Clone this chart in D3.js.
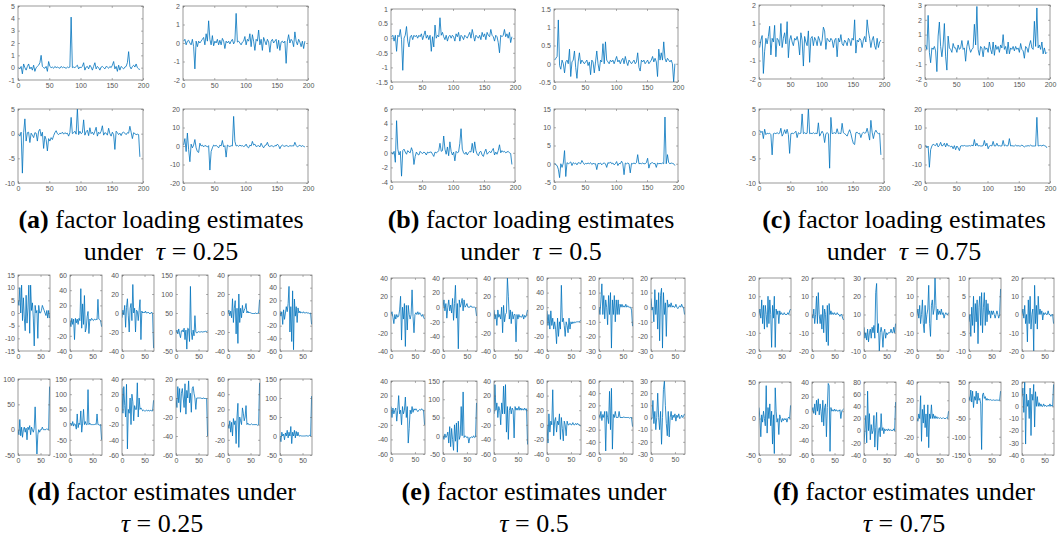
<!DOCTYPE html>
<html>
<head>
<meta charset="utf-8">
<script src="https://cdn.jsdelivr.net/npm/d3@7"></script>
<style>
body { margin: 0; background: #fff; }
svg { display: block; }
.tick text { font-family: "Liberation Sans", Arial, sans-serif; font-size: 7px; fill: #555; }
.tick line { stroke: #666; stroke-width: 0.5; }
.caption { font-family: "Liberation Serif", "Times New Roman", serif; font-size: 26px; fill: #000; }
</style>
</head>
<body>
<svg id="fig" width="1063" height="542"></svg>
<script>
// loadings: one value per 2nd unit (x = 1, 3, ..., 195)
var loadXTicks = [0, 50, 100, 150, 200];
// factors: one value per 2nd period (x = 0, 2, ..., 70)
var factXTicks = [0, 50];

// y axis [min, max, step] for each panel
var loadYA = [[-1, 5, 1], [-2, 2, 1], [-10, 5, 5], [-20, 20, 10]];
var loadYB = [[-1.5, 1, 0.5], [-0.5, 1.5, 0.5], [-4, 6, 2], [-5, 15, 5]];
var loadYC = [[-2, 2, 1], [-2, 3, 1], [-10, 5, 5], [-20, 20, 10]];
var factYD = [[-15, 15, 5], [-40, 60, 20], [-40, 40, 20], [-50, 150, 50], [-40, 40, 20], [-60, 60, 20],
              [-50, 100, 50], [-100, 150, 50], [-60, 40, 20], [-60, 20, 20], [-40, 60, 20], [-50, 150, 50]];
var factYE = [[-40, 40, 20], [-60, 40, 20], [-40, 40, 20], [-40, 60, 20], [-30, 20, 10], [-30, 20, 10],
              [-60, 40, 20], [-50, 150, 50], [-60, 40, 20], [-40, 60, 20], [-60, 60, 20], [-30, 30, 10]];
var factYF = [[-20, 20, 10], [-20, 20, 10], [-10, 30, 10], [-20, 20, 10], [-10, 10, 5], [-20, 20, 10],
              [-50, 50, 50], [-60, 40, 20], [-40, 80, 20], [-40, 40, 20], [-150, 50, 50], [-40, 20, 10]];

var loadA = [
  [0, -0.1, 0.1, -0.5, 0.3, 0, -0.2, 0.1, 0.3, -0.1, 0.05, -0.2, 0.2, -0.3, 0, 0.1, 0.2, 0.4, 1.0, 0.1,
   0, -0.05, 0.1, -0.3, 0.5, 0.1, 0, 0.05, -0.05, 0.1, 0, 0.05, 0, -0.05, 0.1, 0, 0.05, 0, -0.05, 0.05,
   0, 0.05, 4.1, 0, 0.05, 0, 0.1, 0.2, -0.1, 0.05, 0, 0.1, 0.4, -0.2, 0.05, 0.1, -0.1, 0.2, 0.05, -0.2,
   0.1, 0.4, -0.1, 0.1, 0, -0.2, 0.05, 0.1, 0, -0.1, 0.1, 0.05, -0.05, 0.1, 0, 0.2, 0.5, -0.1, 0.1, -0.3,
   0.2, -0.2, 0.1, 0, -0.1, 0.05, 0.1, 0.4, 1.3, 0.1, -0.1, 0.1, 0.2, 0.05, 0.3, 0, -0.1, -0.15],
  [0.1, 0.2, -0.1, 0.1, 0.15, 0, -0.1, 0.2, -0.2, -1.4, 0.1, -0.2, 0.1, 0, 0.1, 0.2, 0.3, -0.1, 0.5, 0.1,
   1.2, 0.2, -0.1, 0.4, -0.15, 0.1, 0, 0.2, -0.1, 0.15, -0.1, 0.25, 0.1, -0.3, 0.1, 0, 0.1, -0.05, 0.1, 0.2,
   -0.05, 0.1, 1.6, 0.05, 0.1, 0, -0.1, 0.05, 0.1, 0.35, -0.1, 0.2, 0.1, 0.5, -0.2, 0.45, 0.1, -0.4, 0.2, 0.1,
   0.7, -0.1, 0.2, -0.4, 0.3, 0.1, -0.1, 0.2, 0.05, -0.5, 0.1, 0.2, 0, 0.1, 0.2, -0.3, 0.15, -0.4, 0.05, 0.1,
   0, 0.1, -1.1, 0.1, 0.45, 0, 0.2, 0.1, -0.2, 0.6, 0.1, -0.1, 0.2, 0.05, -0.2, 0.1, -0.3, 0.1],
  [-0.2, -0.5, 0.3, -8, 0.2, 3, -1.5, 0.2, 0.3, -1.8, 0.1, -0.3, -0.8, 0.2, 0.1, -1.5, 0.5, 0.9, -0.5, 0.3,
   -3, -0.5, -1.2, -3.5, -1, -1.5, -0.8, -1.2, -0.4, 0.2, 0.6, 0, -0.2, 0.1, 0, 0.3, -0.1, 0.2, 0, 0.1,
   -0.5, 0.2, 3.3, 0, 0.2, 0.5, -0.1, 5.1, -0.2, 0.5, 0, 0.2, 2.8, -0.3, 0.4, 0.7, -0.4, 1.2, 0, 0.3,
   -0.2, 0.5, 1.3, -0.5, 0.3, 0, 0.5, 1.6, -0.3, 0.2, 0.1, -0.3, 1.1, 0, -0.5, 0.3, -0.2, -3.2, 0.5, 0.2,
   -0.2, 0.1, -0.4, 0.2, 0.3, 0.1, -0.2, 0.2, 0.1, 1.5, 0.3, -1, 0.2, 0, -0.2, -0.1, -0.2, -4.7],
  [0.5, 4, -3, 7, -2, -8.5, 1, -1, 0.5, 3.5, -1, -3, -3.5, 1.5, 0, 0.5, -0.5, 0.3, 0, -0.5,
   0.2, -13, -3, -1, 0.5, 0, 0.3, -0.2, -1, 0.5, 0, 3, -0.5, 0.2, -6, 0.5, 0, -0.3, 0.2, 0,
   16, 2.5, 0, 0.3, -0.2, 0.5, 0, 0.2, -0.3, 0, 1, -0.5, -1, 0.5, 0, 2.5, 0.5, 1, -0.3, 0,
   0.2, -0.5, 1.5, 0, -1, 0.3, 0.5, 2, 0, -0.3, 0.2, 0, -0.5, 0.3, 0, 1, 0.2, -1.5, 0, 0.5,
   0, -0.2, 0.3, 0, -0.3, 0.2, 0, 0.1, 0, 2, 0.3, -0.5, 0, 0.5, -0.3, 0.2, -0.2, -0.5]
];

var loadB = [
  [0.05, 0.1, -0.1, 0.1, -0.45, 0.1, 0.05, 0.3, -0.05, -1.1, 0, 0.1, 0.4, -0.1, -0.3, 0.05, 0.1, -0.05, 0.1, 0.05,
   0.1, 0, 0.1, 0.05, 0.15, -0.05, 0.1, 0.25, 0, 0.1, -0.05, 0.1, -0.45, 0.05, -0.3, 0.45, 0, 0.1, 0.05, 0.7,
   0.1, 0.2, 0.05, -0.05, 0.1, -0.1, 0.05, 0.1, 0, 0.1, 0.05, -0.1, 0.15, 0.05, 0.2, -0.1, 0.1, 0.05, -0.05, 0.1,
   0.05, 0, 0.1, 0.2, 0, 0.3, 0.1, -0.1, 0.1, 0.05, 0, 0.1, -0.05, 0.2, 0.05, 0.15, -0.05, 0.2, 0.1, 0.05,
   0.3, 0.1, 0.05, -0.1, 0.1, 0.05, -0.15, -0.5, 0.1, 0.05, 0.1, 0.3, 0.05, 0.15, 0, 0.2, -0.15, 0.05],
  [0.1, 0.15, 0.2, 1.2, -0.05, -0.15, 0.1, 0, -0.25, 0.05, 0.1, 0, 0.4, -0.35, 0.05, 0.1, 0.35, -0.1, -0.4, 0.05,
   0.3, 0, 0.1, 0.05, 0, 0.05, 0.1, -0.05, 0.05, -0.3, 0.1, 0.05, -0.25, 0.05, 0.35, 0, -0.2, 0.1, 0.05, 0.55,
   0, 0.6, 0.1, 0.05, 0, 0.1, 0.05, 0.1, 0, 0.1, 0.2, 0.05, 0.1, 0, 0.1, 0.15, 0, 0.2, 0.05, -0.05,
   0.1, 0.05, 0, 0.05, 0.1, 0, 0.05, 0.3, -0.1, -0.2, 0.1, 0.05, 0.1, 0, 0.05, 0.1, 0, 0.05, 0.1, 0.2,
   0.05, 0.15, 0.05, -0.35, 0.4, 0.1, 0.3, 0.1, 0.6, 0.15, 0.05, 0.15, 0.1, 0.05, 0.1, 0, -0.5, 0],
  [0.1, -0.2, 0.2, -1.3, 4.4, 0.5, -0.3, 0.2, -3.2, 0.3, 0.5, 0.1, -0.2, 0.3, 0.1, 0, 0.7, 0.2, -1.6, -0.5,
   0.1, -0.2, -0.3, 0.2, 0, -0.1, 0.1, 0, -0.3, 0.1, 0, 0.1, 0.1, -0.2, -0.5, 0.1, 0, 0.1, 0.3, 1.3,
   0.2, 0.3, 2.3, 0.5, -0.2, 0.8, -0.4, 1.5, 0.2, -0.3, 0.1, -1.1, 0.2, 0, 0.1, 1.3, 3.3, 0.5, 0, -0.2,
   0.1, -0.3, 0, 0.2, 0.1, 1.3, 0, 1.5, 0.3, -0.2, -0.4, 0.1, 0.2, -0.3, -0.5, 0.1, 0.5, -0.2, 0, 0.2,
   0, 0.3, 0.6, -0.3, 0.1, -0.2, 0.3, 1.1, 0, 0.3, 0.1, 0.2, 0, 0.1, 0.2, 0, -0.1, -1.6],
  [0.2, -0.3, -0.5, -1.5, -3.8, 0, -1, 0.2, 3.6, -3.5, 0.3, 0, 0.2, 0.5, -0.5, 0.3, 0, 0.2, -0.3, 0.3,
   0.2, 0, 0.9, 0.3, -0.2, 0.1, 0, 0.2, 0, 0.3, -0.2, 0.1, 0, 0, -1.6, 0.1, 0, 0.2, -0.3, 0.1,
   0.2, 0, -1, 0.3, 0.1, 0.5, 0, 0.2, -0.3, 0, 0.6, -0.5, 0.1, 0, 0.7, 0, -3, 0.2, 0, 0.2,
   0, -2.5, 0.1, 0, 0.2, 0, 0.3, 2.5, 0, 0.1, 0, 0.2, 0, 0, 0.3, 1.5, -1.2, 0, 0.2, 0.3,
   0, 0.1, -1, 0.2, 0, 0.1, 0, 0.2, 0, 12.8, 0, 2.5, 0.3, 0, 0.2, 0.1, 0, -0.5]
];

var loadC = [
  [-0.3, 0.1, 0.35, -1.7, -0.5, 0.2, -0.1, 0.3, 0.85, -0.7, 0.2, 0, 0.9, -0.8, 0.2, 0.1, -0.2, 1.0, -0.3, 0.2,
   0.5, -0.1, 1.1, -0.85, 0.1, 0.35, 0, -0.2, 0.2, 0.1, 0.3, 0, -0.7, 0.5, 0.1, -1.3, 0.3, 0, -0.2, 0.6,
   -1.1, 0.2, 0.3, -0.2, 0.25, 0.1, -0.2, 0.3, 0.1, -0.2, 0.1, 0.8, 0.6, -0.4, 0.2, 0.1, 0, 0.2, 0.1, -0.3,
   0.1, 0.2, -0.8, 0.2, 0, 0.4, -0.1, -0.2, 0.1, 0, -0.2, 0.2, 0.1, -0.2, 0.2, 0.1, 1.2, -0.6, 0.1, 0,
   0.2, 0.1, -0.3, 0.1, 0.3, 0, 1.2, 0.6, 0.2, -0.3, 0.1, 0.3, -0.2, -0.4, 0.2, -0.3, 0, 0.1],
  [0.3, 0, 2.3, -0.2, -0.9, 0.1, 0, 0.2, -0.1, -1.5, 0.9, 1.85, 0.2, -0.5, 0.3, 1.75, -0.5, -1.4, 0.9, 0.1,
   0, -0.2, 0.4, 0.1, 0.1, -0.2, 0.3, 0, 0.1, 0.6, 0, 0.1, -0.8, 0.2, 0.6, 0.1, -0.2, 0, 0.1, 1.7,
   0.3, 2.9, 0, -0.4, 0.2, 0.1, -0.5, 0.2, 0, 0.1, -0.2, 0.5, 0, -0.3, 0.5, -0.4, 0.3, 0, 0.2, -0.2,
   0.3, 0.1, 1.0, 0, 0.2, -0.3, 0.5, -0.3, 0.1, 0, 0.2, -0.1, 0.2, 0, 0.1, -0.2, 0.4, 0, -0.1, -0.6,
   0.2, 0.1, -0.2, 0.3, 0.6, 0.1, 0, 1.9, 0.2, 2.8, 0.1, 0.3, 0, 0.5, -0.3, 0.1, -0.3, -0.2],
  [0.7, 0.2, 0.5, -1, 0.9, -0.2, 0.1, 0, 0.1, -0.2, -4.3, 0, 0.1, 0, 0.2, 0, 0.1, 1.1, -0.5, 0,
   0.8, 0, 0.9, -0.2, -4, 0, 0.1, 0, 0.2, 0.5, -0.8, 0.2, 0, 0.1, 4, 0, 0.2, 0, 0.1, 5.2,
   0, 0.1, 0, 0.2, 0, 0.1, 0, 2.2, -0.5, 0, 0.5, 0, -1.8, 0, 0.2, 0, -7, 3.3, 0, 0.1,
   0.2, 0, 1, 0, 0.1, 0, 2.1, 0.2, 0, -0.2, -0.5, 0.2, 0.8, 0, -1.1, -2, -2.2, 0.2, 0.3, 0,
   0.1, -0.8, 0, 0.3, 0.1, 0.2, 1.1, 0, -1.3, 2.7, 0.3, -1, 0.2, 0.7, 0.2, 0, 0.1, -4.3],
  [0.5, -1, 0, -11.5, -2, 0, 1, 0.5, 0.2, 1.5, -0.5, 0.3, 2, 0, 0.3, 1.5, -0.5, 1.5, 0, 0.2,
   -0.5, 0, -1.5, 0.2, -2, 0, -1, -2.5, 0, 0.2, 0, 0.3, 0, 0, 0, 0.2, 0, 0.5, 0, 3.5,
   0, 1.5, 0, 0.2, 0, 0, 0.2, 3, 0, 1.5, -1.5, 0, 0.3, 0, 2.5, 0, 0, 1.5, 0, 0.2,
   0, 0, 3, 0, 0.5, 0, 0.2, 4, 0, 0.2, 0, 0, 0.5, 0, 0.2, 0, 0, 0.5, 0, -0.5,
   0, 0, 0.2, 0, 0.5, 0, 0, 0, 0, 15.5, 0, 0.2, 0.3, 0, 0.5, 0.2, 0, -1]
];

var factD = [
  [5, 3, 10, 0, 11, -3, 6, -2, -7, 7, -4, 2, 11, -8, 11, 1, 4, -2, -13, 3, 0, 1, -10, 3, 0, 0, 1, 3, 2, 1, 0, -1, 1, -2, 1, -2],
  [0, -8, 3, -5, 2, -25, 3, -3, 2, -5, 3, 0, 42, -10, 22, -5, 33, -15, -10, 5, 12, -17, 2, 0, 3, 1, 0, 2, 1, 2, 1, 28, 2, 1, 0, -8],
  [-5, 3, -2, 8, -15, 6, 15, -3, -20, 5, 10, -8, 30, 0, 5, -20, 3, 2, -8, 3, 14, -28, 2, 0, 1, 0, 2, 0, 0, 1, 0, -1, 0, 1, -2, -37],
  [0, 5, -5, 8, -5, -15, 3, 5, 0, 10, -20, 5, -45, 10, 8, -25, 120, 0, -20, 5, -10, 43, 0, -3, 0, 1, 0, 0, 1, 0, 0, 1, 1, 2, 1, 3],
  [0, 3, -3, 2, -5, 15, -10, 5, 13, -22, 5, -32, 20, -10, 5, -5, 8, 0, 3, 5, 10, 0, 2, 0, 1, 0, 0, -1, 0, -1, 0, 0, -1, 0, 0, 14],
  [3, -5, 2, -18, 5, -10, 0, 10, 2, 15, 42, -30, 10, -45, 35, -58, 22, -5, 10, -15, 8, 0, 3, 0, 1, 0, 2, 0, 0, 1, 0, 0, 0, -1, 0, -18],
  [0, -10, 20, -12, 5, -15, 0, 5, -5, 3, -20, 5, 0, 8, -10, 5, 0, -5, 3, 45, -2, -48, -10, 0, -5, 0, 0, 5, 0, 0, 0, 0, 2, 0, 0, 85],
  [0, 5, -3, 10, -5, 3, 0, -15, 35, -10, 5, 0, 45, -25, 5, 50, 0, 10, 0, 0, 115, 0, 5, 0, 0, 0, 0, 0, 2, 0, 35, 0, 0, -2, 0, -50],
  [28, -5, 30, 5, -10, 33, -52, 0, -5, 15, -20, 20, 10, -15, 5, 0, 0, 35, -10, 15, 0, 2, 0, -2, -1, -2, -2, -1, -2, -1, -2, -2, -1, -2, -2, 12],
  [0, -10, 12, -5, 10, -15, 5, 10, 0, -10, 15, -17, 8, 0, 18, -5, 5, -15, 10, 12, 5, 0, -12, 0, 0, 0, 0, 0, 0, -1, 0, 0, -1, 0, -1, -40],
  [0, -5, 5, -10, 3, -15, 8, 0, 5, -25, 10, 28, -30, 10, 5, 0, 22, 15, 5, 10, 25, 0, 2, 0, 0, 0, 1, 0, 0, 0, 0, 0, 0, -1, 0, 55],
  [0, -15, 10, 0, 5, -10, 8, 0, 15, -5, 10, 0, 25, -20, 10, 0, 15, -5, 12, 0, 10, 0, 0, 1, 0, 0, 0, 0, 0, 1, 0, 0, 0, 2, 0, 105]
];

var factE = [
  [0, 3, -3, -10, 0, -5, 0, -3, -2, 5, 20, -28, 8, -5, 12, -35, 10, -17, 10, 0, -5, 0, 27, -2, -20, 0, 2, 0, 3, 0, 2, 0, -2, 0, -3, -5],
  [0, 10, -5, 5, -15, 0, 10, -5, 3, -8, 12, -18, 5, 30, -15, 5, -57, 10, 0, 5, 12, -5, 10, 0, 2, 5, 0, 0, 0, 2, 0, 0, 0, 0, -1, -12],
  [5, -5, 0, -12, 5, -3, 0, -5, 8, -20, 10, -8, 0, 2, 40, 20, -5, 5, -10, 3, -5, 0, 0, -30, 0, -5, 0, -3, -2, -3, 0, -5, -1, -3, 0, 5],
  [15, -5, 10, -10, 15, -5, 5, -10, 0, -10, -30, 5, -20, 0, -10, 50, 0, 5, -5, -20, 0, -5, -15, 5, -10, 0, -3, 0, -2, 0, -1, 0, 0, 0, 0, 2],
  [0, -5, 5, 16, -5, 8, -8, 5, 0, -12, 8, -5, 10, -28, 5, -5, 8, -10, 5, -5, 5, -5, 2, 0, 2, 0, 1, 0, 2, 0, 1, 0, 0, 0, -2, -13],
  [6, -2, 0, -10, 12, -5, 5, -15, 10, -23, 8, 13, -28, 10, -5, 3, -20, 5, 0, 2, 0, 3, 0, 1, 0, 0, 2, 0, -1, 0, 1, 0, 2, 0, 0, -5],
  [5, -10, 3, -5, 0, 3, -15, 0, 20, -5, 0, -20, 5, -5, 0, 18, -10, 5, -45, -25, 0, -5, 5, -3, 2, 0, 2, 0, -2, 0, 1, 0, 2, 0, 0, -20],
  [0, -10, 5, -5, 0, 10, -20, 25, -30, 20, -10, -40, 30, -15, 35, -45, 40, -10, 0, 80, 0, 120, -5, 0, -3, -5, -3, -20, -5, -5, -3, -5, 0, -5, -3, 90],
  [-5, 35, 0, 10, -10, 5, 0, -20, 10, -5, 33, -5, 35, -30, 5, -40, 0, 5, -5, 3, 0, -38, 5, 0, 3, 0, 5, 0, 3, 0, 2, 0, 3, 0, 2, -47],
  [0, -25, 15, -10, 5, 0, 48, -15, 5, 10, -10, 5, 0, 15, -20, 10, -5, -22, 5, 0, -15, 5, 0, 0, 2, 0, 0, 3, 0, 0, 2, 0, 2, 0, 0, -2],
  [5, 0, 10, -5, 5, 0, 10, -55, 10, 0, -10, 43, -20, 48, -52, 5, 0, 10, 0, 0, 0, 10, 0, 0, 0, 0, 1, 0, 0, 0, 0, 0, -1, 0, 0, -15],
  [-2, 0, 14, -5, 5, -10, 0, 20, 0, -10, 5, -22, 0, 23, 30, 10, -5, -15, 5, -16, 0, 5, -2, 2, 0, 3, -3, 2, 0, 3, -1, 0, 2, 0, 1, 3]
];

var factF = [
  [0, 3, -2, 8, -5, 5, -8, 5, 0, -7, 10, -5, 8, 0, -18, 5, -2, 10, -18, 3, 0, 2, -5, 2, 0, 1, 0, 0, 1, 0, 0, 0, 1, 0, 2, 3],
  [0, -2, 3, -5, 0, 10, -5, 12, 0, -5, 0, -8, 5, -10, 3, 0, -15, 5, -17, 6, 0, 2, 0, 1, 0, 1, 0, 0, 1, 0, 0, -1, 0, 0, -2, -3],
  [3, -3, 0, -4, 2, -5, 0, 2, -3, 3, 0, 4, -3, 22, 27, 0, 5, -10, 0, 3, 0, -8, 0, 2, -3, 0, -1, 0, 0, 0, 2, 0, 0, 3, 0, 5],
  [0, 3, -2, 5, -5, 0, 8, -5, -10, 5, -5, 0, 3, 16, -5, -12, 5, 8, 0, 3, 20, 5, -3, 3, 0, 2, 0, 3, 0, 1, -2, 0, 1, 0, 0, 1],
  [-2, 0, -6, 2, -3, 5, -5, 3, -2, 4, -8, 2, 5, -3, 6, -5, 2, 6, -3, 4, -2, 3, 0, 1, -1, 1, 0, 1, 0, -1, 0, 1, 0, -1, 0, 7],
  [0, 3, -2, 5, -5, 0, -15, 8, -5, 10, -8, 0, 3, -20, 16, -5, 5, -8, 10, 0, 3, 0, 2, -3, 1, 0, 1, 0, 0, 2, 0, 0, -1, 0, 0, -5],
  [15, 0, -25, 5, -5, 10, 0, -10, 45, -20, 15, 0, 20, -10, 10, -35, 5, -48, 42, 10, -5, 0, -22, 5, 0, -5, 0, -3, 0, -2, 0, -5, 0, 2, 0, 18],
  [0, 5, -3, 10, -5, 15, 0, 17, -5, 10, 0, -15, 15, -20, 5, 10, -35, 5, 38, 35, -55, 5, 0, 2, 0, 3, 0, 2, 0, 1, 0, 2, -10, 0, 2, 3],
  [-20, 0, 25, -20, 65, 0, 28, -15, 10, -5, 0, 25, -27, 5, 30, -32, 0, 5, -10, 28, 0, 5, -5, 3, 0, 2, 0, 3, 0, 2, 0, 1, 0, 3, 0, 47],
  [0, -3, 5, 0, 25, -25, 10, -5, 15, -10, 5, -20, 15, -32, 5, 0, 15, 0, 5, 0, 3, 0, 2, 0, 1, 0, 1, 0, 0, 1, 0, 0, 0, 1, 0, 8],
  [10, 0, 28, -5, 25, -20, 10, 0, 25, -10, 20, 0, 5, -10, -135, 15, 20, 5, 10, 0, 5, 0, 3, 0, 2, 0, 0, 1, 0, 0, 0, 1, 0, 0, 0, 25],
  [8, 15, -5, 20, -31, 10, 0, 5, -10, 15, -24, 10, 5, 18, -17, 12, 0, 8, 0, 3, 0, 2, 0, 0, 2, 0, 1, 0, 0, 1, 0, 2, 0, 1, 0, 18]
];

var captionLetters = ["a", "b", "c", "d", "e", "f"];
var captionTaus = ["0.25", "0.5", "0.75", "0.25", "0.5", "0.75"];

var svg = d3.select("#fig");
var clipCount = 0;
var fmt = function (d) { return String(+d.toFixed(2)); };

function drawPanel(left, top, w, h, xDomain, xTicks, yInfo, series, x0) {
    var g = svg.append("g").attr("transform", "translate(" + left + "," + top + ")");
    var x = d3.scaleLinear().domain(xDomain).range([0, w]);
    var y = d3.scaleLinear().domain([yInfo[0], yInfo[1]]).range([h, 0]);
    var yTicks = d3.range(yInfo[0], yInfo[1] + yInfo[2] / 2, yInfo[2]);

    clipCount++;
    g.append("clipPath").attr("id", "clip" + clipCount)
        .append("rect").attr("width", w).attr("height", h);

    var line = d3.line()
        .x(function (d, i) { return x(x0 + 2 * i); })
        .y(function (d) { return y(d); });

    g.append("path")
        .datum(series)
        .attr("clip-path", "url(#clip" + clipCount + ")")
        .attr("d", line)
        .attr("fill", "none")
        .attr("stroke", "#0072BD")
        .attr("stroke-width", 0.8)
        .attr("stroke-linejoin", "round");

    g.append("g")
        .attr("transform", "translate(0," + h + ")")
        .call(d3.axisBottom(x).tickValues(xTicks).tickFormat(fmt).tickSizeInner(-2).tickSizeOuter(0).tickPadding(3));
    g.append("g")
        .call(d3.axisLeft(y).tickValues(yTicks).tickFormat(fmt).tickSizeInner(-2).tickSizeOuter(0).tickPadding(3));
    g.append("g")
        .call(d3.axisTop(x).tickValues(xTicks).tickFormat("").tickSizeInner(-2).tickSizeOuter(0));
    g.append("g")
        .attr("transform", "translate(" + w + ",0)")
        .call(d3.axisRight(y).tickValues(yTicks).tickFormat("").tickSizeInner(-2).tickSizeOuter(0));
    g.selectAll(".domain").remove();

    g.append("rect")
        .attr("width", w).attr("height", h)
        .attr("fill", "none")
        .attr("stroke", "#6e6e6e")
        .attr("stroke-width", 0.7);
}

function drawLoadings(lefts, tops, w, h, yInfos, data) {
    data.forEach(function (s, k) {
        drawPanel(lefts[k % 2], tops[Math.floor(k / 2)], w, h, [0, 200], loadXTicks, yInfos[k], s, 1);
    });
}

function drawFactors(lefts, tops, w, h, yInfos, data) {
    data.forEach(function (s, k) {
        drawPanel(lefts[k % 6], tops[Math.floor(k / 6)], w, h, [0, 71], factXTicks, yInfos[k], s, 0);
    });
}

drawLoadings([18, 183], [6, 109], 125, 74, loadYA, loadA);
drawLoadings([391, 554], [9, 109], 124, 73, loadYB, loadB);
drawLoadings([759, 925], [5, 109], 125, 74, loadYC, loadC);

drawFactors([18, 70, 122, 176, 228, 280], [275, 379], 32, 76, factYD, factD);
drawFactors([391, 443, 494, 547, 599, 651], [278, 381], 34, 73, factYE, factE);
drawFactors([759, 812, 864, 917, 969, 1022], [278, 382], 32, 73, factYF, factF);

function caption(k, cx, y1, y2) {
    var t1 = svg.append("text").attr("class", "caption")
        .attr("x", cx).attr("y", y1).attr("text-anchor", "middle");
    t1.append("tspan").attr("font-weight", "bold").text("(" + captionLetters[k] + ")");
    t1.append("tspan").text(k < 3 ? " factor loading estimates" : " factor estimates under");

    var t2 = svg.append("text").attr("class", "caption")
        .attr("x", cx).attr("y", y2).attr("text-anchor", "middle");
    if (k < 3) t2.append("tspan").text("under\u2002");
    t2.append("tspan").attr("font-style", "italic").text("\u03c4");
    t2.append("tspan").text(" = " + captionTaus[k]);
}

caption(0, 161, 228, 260);
caption(1, 531, 228, 260);
caption(2, 904, 228, 260);
caption(3, 162, 500, 532);
caption(4, 534, 500, 532);
caption(5, 904, 500, 532);
</script>
</body>
</html>
